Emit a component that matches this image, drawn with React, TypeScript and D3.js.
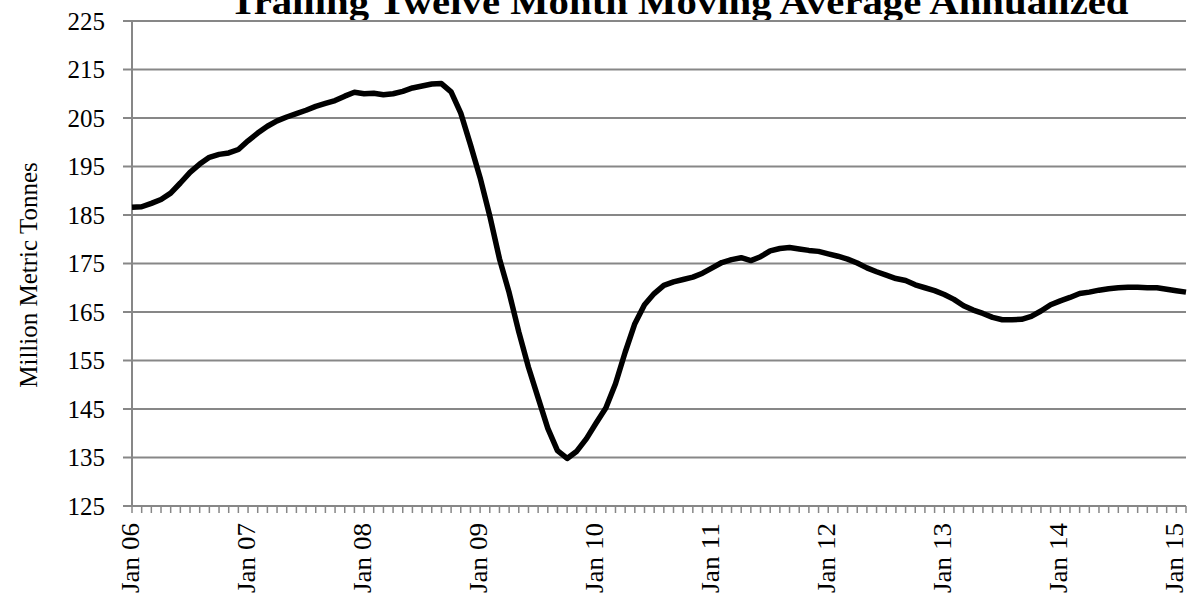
import React from "react";
import * as d3 from "d3";

// trailing twelve month moving average, annualized (million metric tonnes), Jan 2006 .. Feb 2015
const firstMonth = new Date(2006, 0, 1);
const endMonth = new Date(2015, 2, 1);
const tonnes = [
  186.6, 186.7, 187.4, 188.2, 189.5, 191.6, 193.8, 195.5, 196.9, 197.5, 197.8, 198.5,
  200.3, 201.9, 203.3, 204.4, 205.2, 205.9, 206.6, 207.4, 208.0, 208.6, 209.5, 210.3,
  210.0, 210.1, 209.8, 210.0, 210.5, 211.2, 211.6, 212.0, 212.1, 210.4, 206.0, 199.5,
  192.7, 184.8, 176.0, 169.0, 160.9, 153.6, 147.3, 141.0, 136.4, 134.8, 136.3, 138.9,
  142.1, 145.2, 150.2, 156.7, 162.6, 166.5, 168.8, 170.5, 171.2, 171.7, 172.2, 173.0,
  174.1, 175.2, 175.8, 176.2, 175.6, 176.4, 177.6, 178.1, 178.3, 178.0, 177.7, 177.5,
  177.0, 176.5, 175.9, 175.1, 174.1, 173.3, 172.6, 171.9, 171.5, 170.6, 170.0, 169.4,
  168.6, 167.6, 166.3, 165.4, 164.7, 163.9, 163.4, 163.4, 163.5, 164.1, 165.2, 166.5,
  167.3, 168.0, 168.8, 169.1, 169.5, 169.8, 170.0, 170.1, 170.1, 170.0, 170.0, 169.7,
  169.4, 169.1,
];
const yTicks = [125, 135, 145, 155, 165, 175, 185, 195, 205, 215, 225];

const title = "Trailing Twelve Month Moving Average Annualized";
const yTitle = "Million Metric Tonnes";

const W = 1188, H = 598;
const left = 132, right = 1186, top = 21, bottom = 506;
const grey = "#878787";
const font = "'Liberation Serif', 'Times New Roman', serif";

export default function App() {
  const months = d3.timeMonth.range(firstMonth, endMonth);
  const fmt = d3.timeFormat("%b %y");

  const x = d3.scalePoint<string>()
    .domain(months.map((m) => m.toISOString()))
    .range([left, right]);

  const y = d3.scaleLinear().domain([125, 225]).range([bottom, top]);

  const line = d3.line<number>()
    .x((d, i) => x(months[i].toISOString()) as number)
    .y((d) => y(d));

  return (
    <svg width={W} height={H} style={{ position: "absolute", left: 0, top: 0, background: "#fff" }}>
      {/* title, cut at the top like the original */}
      <text x={679} y={14} textAnchor="middle" fontFamily={font} fontWeight="bold"
        fontSize={36} textLength={899} lengthAdjust="spacingAndGlyphs">{title}</text>

      {/* horizontal gridlines */}
      {yTicks.filter((t) => t > 125).map((t) => (
        <line key={"g" + t} x1={left} x2={right} y1={y(t)} y2={y(t)} stroke={grey} strokeWidth={2} />
      ))}

      {/* y axis */}
      <line x1={left} x2={left} y1={top} y2={bottom} stroke={grey} strokeWidth={2} />
      {yTicks.map((t) => (
        <g key={"y" + t}>
          <line x1={left - 9} x2={left} y1={y(t)} y2={y(t)} stroke={grey} strokeWidth={2} />
          <text x={105} y={y(t)} dy="0.35em" textAnchor="end" fontFamily={font} fontSize={25}>{t}</text>
        </g>
      ))}
      <text transform={`translate(37,275) rotate(-90)`} textAnchor="middle" fontFamily={font} fontSize={25}>{yTitle}</text>

      {/* x axis with monthly tick marks */}
      <line x1={left} x2={right} y1={bottom} y2={bottom} stroke={grey} strokeWidth={2} />
      {months.map((m) => {
        const px = x(m.toISOString()) as number;
        return <line key={"t" + px} x1={px} x2={px} y1={bottom} y2={bottom + 7} stroke={grey} strokeWidth={1.5} />;
      })}
      {months.filter((m) => m.getMonth() === 0).map((m) => {
        const px = x(m.toISOString()) as number;
        return (
          <text key={"l" + px} transform={`translate(${px + 7},523) rotate(-90)`} textAnchor="end"
            fontFamily={font} fontSize={26} textLength={70} lengthAdjust="spacingAndGlyphs">{fmt(m)}</text>
        );
      })}

      {/* series */}
      <path d={line(tonnes) || ""} fill="none" stroke="#000" strokeWidth={5.5} strokeLinejoin="round" />
    </svg>
  );
}
